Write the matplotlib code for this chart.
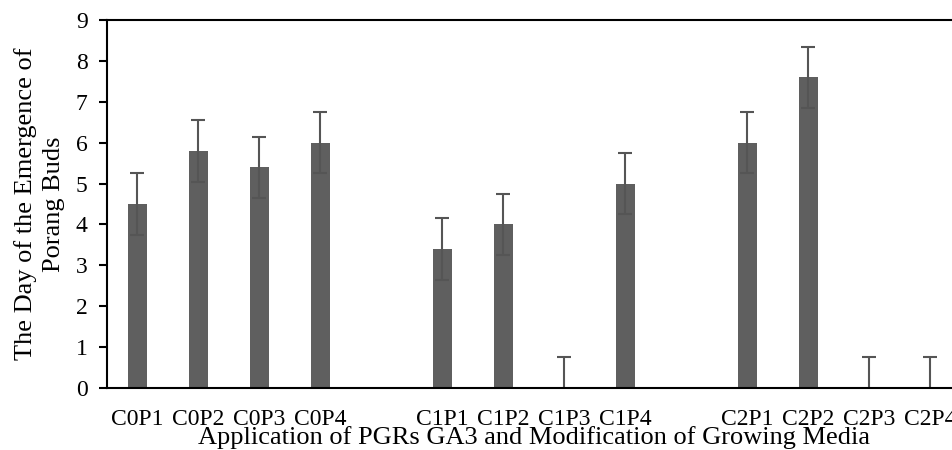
import matplotlib.pyplot as plt
import numpy as np

labels = ["C0P1", "C0P2", "C0P3", "C0P4", "",
          "C1P1", "C1P2", "C1P3", "C1P4", "",
          "C2P1", "C2P2", "C2P3", "C2P4"]
values = [4.5, 5.8, 5.4, 6.0, np.nan,
          3.4, 4.0, 0.0, 5.0, np.nan,
          6.0, 7.6, 0.0, 0.0]
errors = [0.75, 0.75, 0.75, 0.75, np.nan,
          0.75, 0.75, 0.75, 0.75, np.nan,
          0.75, 0.75, 0.75, 0.75]

plt.rcParams['font.family'] = ['Liberation Serif', 'DejaVu Serif']

fig = plt.figure(figsize=(9.53, 4.5), dpi=100)
ax = fig.add_axes([107 / 953, 62 / 450, (961 - 107) / 953, 368 / 450])

x = np.arange(len(labels))
ax.bar(x, values, width=0.31, color='#5f5f5f')
ax.errorbar(x, values, yerr=errors, fmt='none', ecolor='#555555',
            elinewidth=1.5, capsize=5, capthick=1.5)

ax.set_xlim(-0.5, 13.5)
ax.set_ylim(0, 9)
ax.set_yticks(range(10))
ax.set_xticks(x)
ax.set_xticklabels(labels)
ax.tick_params(axis='x', length=0, pad=15, labelsize=17)
ax.tick_params(axis='y', length=6, width=1.5, labelsize=17, pad=8)
for s in ax.spines.values():
    s.set_linewidth(1.5)

ax.set_xlabel("Application of PGRs GA3 and Modification of Growing Media",
              fontsize=19, labelpad=-3)
ax.set_ylabel("The Day of the Emergence of\nPorang Buds", fontsize=19,
              linespacing=1.3, labelpad=8)

fig.savefig("out.png", dpi=100)
